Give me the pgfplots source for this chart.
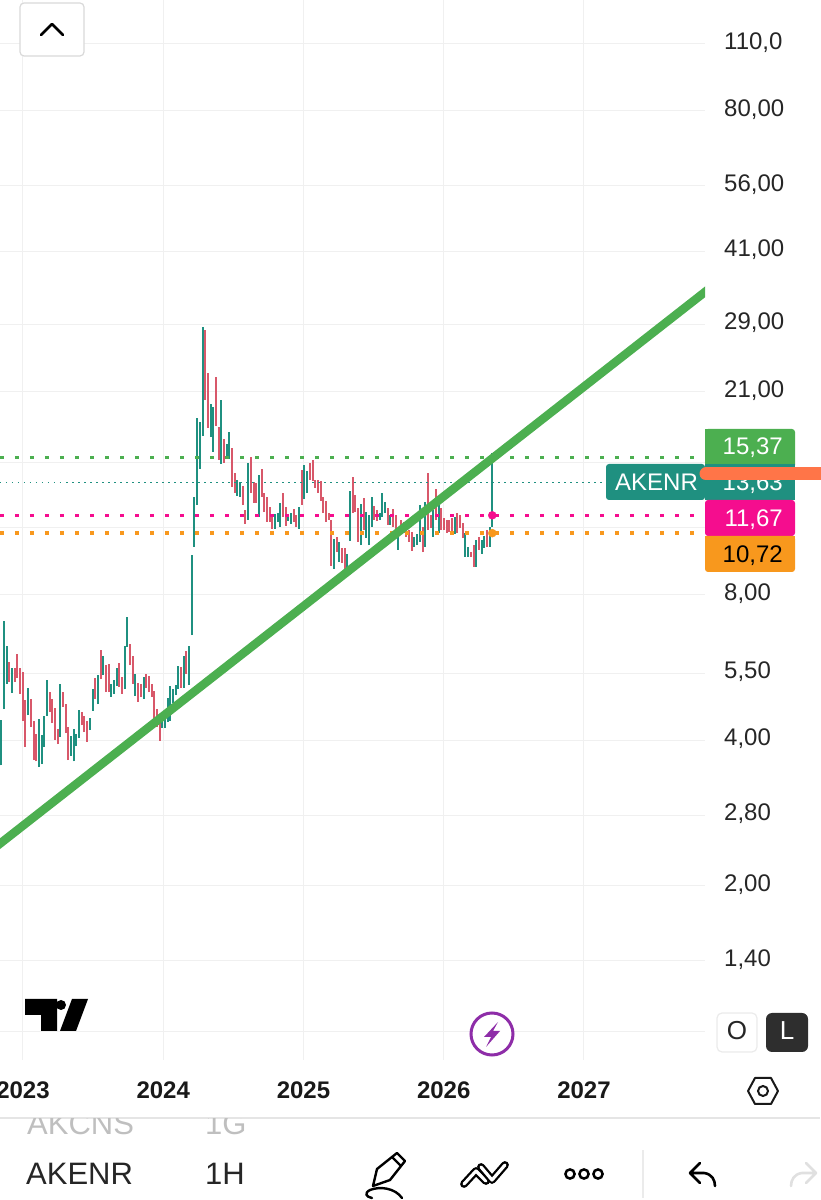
\documentclass[border=0pt]{standalone}
\usepackage{pgfplots}
\usepackage{pgfplotstable}
\usepackage{fontspec}
\setmainfont{Liberation Sans}
\pgfplotsset{compat=1.18}
\definecolor{tvteal}{HTML}{1F9080}
\definecolor{tvred}{HTML}{D8586A}
\definecolor{tvgreen}{HTML}{4CAF50}
\definecolor{tvpink}{HTML}{F50D8E}
\definecolor{tvorange}{HTML}{F8981D}
\definecolor{tvgrid}{HTML}{F0F0F0}
\definecolor{scrib}{HTML}{FF7548}
\definecolor{tvpurple}{HTML}{8E2DA8}
\pgfplotstableread{
k l h
0 3.55 4.41
1 4.64 7.06
2 5.23 6.27
4 5.01 5.64
10 4.51 5.13
14 3.52 4.43
15 3.57 4.10
16 3.87 4.49
17 4.49 5.33
22 4.06 5.23
26 3.71 4.08
27 3.62 4.22
28 3.89 4.12
29 4.05 4.62
33 4.20 4.45
34 4.60 5.10
36 4.75 5.46
38 5.46 5.97
41 4.92 5.23
42 4.99 5.33
43 5.18 5.64
46 5.10 6.27
47 6.24 7.19
50 4.94 5.48
53 4.87 5.41
60 4.24 4.47
61 4.24 4.47
62 4.37 4.90
63 4.39 5.18
64 4.78 5.10
65 4.96 5.20
66 5.10 5.69
68 5.13 5.97
70 5.20 6.27
71 6.60 9.67
72 10.04 12.74
73 12.26 18.55
74 14.55 18.18
75 17.03 28.60
78 16.95 19.83
79 15.78 19.55
82 14.90 20.21
84 15.26 16.39
85 15.26 17.35
88 12.80 13.81
89 12.74 13.68
92 11.42 14.97
96 11.58 14.14
102 10.94 11.75
103 11.31 11.80
104 11.05 12.38
107 11.36 11.75
108 11.20 11.80
111 10.94 12.14
113 12.62 14.83
114 12.98 14.41
124 9.04 10.43
126 9.35 10.28
129 9.00 9.71
130 10.33 13.11
134 10.13 12.32
136 10.49 11.85
137 10.13 11.69
138 11.05 12.74
141 11.42 11.80
142 11.58 12.98
143 11.80 12.44
145 11.15 11.69
148 9.90 11.00
154 10.04 10.54
155 10.13 10.69
156 10.28 12.26
158 10.04 12.44
161 10.54 11.97
163 10.74 12.38
169 10.69 11.58
173 9.57 10.74
174 9.57 10.04
177 9.13 10.38
179 9.71 10.38
180 9.99 10.59
182 10.04 11.05
183 11.05 15.68
}\tealbars
\pgfplotstableread{
k l h
3 5.28 5.80
5 5.28 5.64
6 5.38 6.03
7 4.99 5.64
8 4.39 5.54
9 3.87 4.85
11 4.26 4.87
12 3.64 4.39
13 3.62 4.12
18 4.58 5.03
19 4.34 4.87
20 4.01 4.66
21 3.93 4.22
23 4.69 5.03
24 4.14 4.75
25 3.64 4.26
30 4.30 4.58
31 4.16 4.49
32 3.97 4.39
35 4.87 5.38
37 5.35 6.15
39 5.03 5.72
40 5.03 5.75
44 5.15 5.78
45 4.99 5.41
48 5.72 6.33
49 5.23 5.97
51 4.80 5.25
52 4.92 5.23
54 5.13 5.48
55 5.03 5.43
56 4.92 5.23
57 4.43 5.05
58 4.26 4.64
59 3.99 4.45
67 5.13 5.67
69 5.48 6.12
76 20.21 28.20
77 17.69 22.99
80 17.87 22.55
81 15.19 17.78
83 14.97 16.79
86 13.36 16.08
87 12.98 14.27
90 12.26 13.42
91 11.20 11.97
93 12.98 15.37
94 12.38 13.68
95 12.38 13.62
97 12.74 14.55
98 11.85 12.98
99 11.31 12.74
100 11.31 12.14
101 10.94 11.69
105 11.58 12.98
106 11.10 12.14
109 11.31 12.03
110 11.05 11.69
112 12.26 14.48
115 13.81 14.97
116 13.75 15.19
117 13.30 13.81
118 12.98 13.81
119 12.50 13.75
120 11.80 12.74
121 11.31 12.50
122 11.42 11.80
123 9.17 11.42
125 9.80 10.54
127 9.31 9.99
128 8.87 9.99
131 11.80 14.00
132 11.85 12.86
133 10.28 12.08
135 10.89 12.68
139 11.42 12.20
140 11.36 11.97
144 11.15 12.08
146 11.05 12.03
147 10.79 11.69
149 10.79 11.42
150 10.74 11.31
151 10.54 11.05
152 10.28 10.89
153 9.85 10.79
157 9.80 11.05
159 10.89 14.27
160 11.00 11.69
162 11.42 13.23
164 10.89 12.08
165 10.89 11.53
166 10.74 11.42
167 10.79 11.42
168 10.79 11.53
170 10.74 11.80
171 11.00 11.69
172 10.49 11.26
175 9.57 9.80
176 9.13 10.13
178 9.90 10.54
181 10.04 10.89
}\redbars
\begin{document}
\begin{tikzpicture}
\useasboundingbox (0,0) rectangle (820pt,1200pt);
\begin{axis}[
  at={(0pt,140pt)}, anchor=south west, scale only axis,
  width=705pt, height=1060pt,
  ymode=log, xmin=2022.836, xmax=2027.863, ymin=0.8733, ymax=135.6,
  axis line style={draw=none}, major tick length=0pt, tick style={draw=none},
  minor tick num=0, log ticks with fixed point,
  grid=major, grid style={color=tvgrid, line width=1pt},
  xtick={2023,2024,2025,2026,2027},
  xticklabels={2023,2024,2025,2026,2027},
  ytick={110,80,56,41,29,21,15,11,8,5.5,4,2.8,2,1.4,1},
  yticklabels={{110,0},{80,00},{56,00},{41,00},{29,00},{21,00},{},{},{8,00},{5,50},{4,00},{2,80},{2,00},{1,40},{}},
  yticklabel pos=right,
  tick label style={inner sep=0pt},
  yticklabel style={font=\fontsize{24}{28}\selectfont, text=black!85, anchor=base west, xshift=19pt, yshift=-5.5pt},
  xticklabel style={font=\fontsize{24}{28}\selectfont\bfseries, text=black!90, anchor=base, yshift=-38.5pt},
  clip=true,
]
\addplot[draw=none, forget plot, error bars/.cd, y dir=plus, y explicit, error mark=none,
  error bar style={line width=2pt, color=tvteal}]
  table[x expr=2022.8455+\thisrow{k}*0.01913, y=l, y error plus expr=\thisrow{h}-\thisrow{l}] {\tealbars};
\addplot[draw=none, forget plot, error bars/.cd, y dir=plus, y explicit, error mark=none,
  error bar style={line width=2pt, color=tvred}]
  table[x expr=2022.8455+\thisrow{k}*0.01913, y=l, y error plus expr=\thisrow{h}-\thisrow{l}] {\redbars};
% horizontal levels
\addplot[tvgreen, line width=3.5pt, dash pattern=on 4pt off 11pt] coordinates {(2022.836,15.37) (2027.863,15.37)};
\addplot[tvpink, line width=3.5pt, dash pattern=on 4pt off 11pt] coordinates {(2022.836,11.67) (2027.863,11.67)};
\addplot[tvorange, line width=3.5pt, dash pattern=on 4pt off 11pt] coordinates {(2022.836,10.72) (2027.863,10.72)};
\addplot[tvteal, line width=1.4pt, dash pattern=on 1.5pt off 4.5pt] coordinates {(2022.836,13.63) (2027.863,13.63)};
% last-bar markers
\addplot[only marks, mark=*, mark size=4pt, color=tvpink] coordinates {(2026.346,11.67)};
\addplot[only marks, mark=*, mark size=4pt, color=tvorange] coordinates {(2026.346,10.72)};
% trend line
\addplot[tvgreen, line width=8.5pt] coordinates {(2022.80,2.40) (2027.90,34.45)};
\end{axis}
\begin{scope}[x=1pt,y=-1pt,yshift=1200pt]
  % top button
  \draw[draw=black!15, fill=white, line width=1.2pt, rounded corners=4pt] (20,3) rectangle (84,56);
  \draw[black, line width=2.6pt, line cap=round, line join=round] (41,35)--(52,24)--(63,35);
  % price boxes
  \fill[tvgreen, rounded corners=3pt] (705,429) rectangle (795,468);
  \fill[tvteal, rounded corners=3pt] (606,464) rectangle (705,500);
  \fill[tvteal] (705,464) rectangle (795,500);
  \fill[tvpink, rounded corners=3pt] (705,500) rectangle (795,536);
  \fill[tvorange, rounded corners=3pt] (705,536) rectangle (795,572);
  \fill[tvorange] (705,536) rectangle (795,545);
  \fill[tvgreen] (705,429) rectangle (710,464);
  \fill[tvgreen] (705,458) rectangle (795,464);
  \begin{scope}[every node/.style={inner sep=0pt, font=\fontsize{24}{28}\selectfont}]
    \node[anchor=base east, text=white] at (783,455) {15,37};
    \node[anchor=base east, text=white] at (783,491) {13,63};
    \node[anchor=base west, text=white] at (615,491) {AKENR};
    \node[anchor=base east, text=white] at (783,527) {11,67};
    \node[anchor=base east, text=black] at (783,563) {10,72};
  \end{scope}
  \draw[scrib, line width=13pt, line cap=round] (706,474)--(760,474)--(826,474);
  % TradingView logo
  \fill[black] (25,999)--(57,999)--(57,1031)--(41,1031)--(41,1015)--(25,1015)--cycle;
  \fill[black] (61,1005) circle (5);
  \fill[black] (72,999)--(88,999)--(76,1031)--(60,1031)--cycle;
  % bolt
  \draw[tvpurple, line width=3pt, fill=white] (492,1034) circle (21);
  \fill[tvpurple] (498,1022)--(484,1037)--(491,1037)--(486,1047)--(500,1031)--(493,1031)--cycle;
  % O / L
  \draw[draw=black!8, fill=white, line width=1.2pt, rounded corners=5pt] (717,1013) rectangle (757,1052);
  \fill[black!82, rounded corners=6pt] (766,1013) rectangle (808,1052);
  \node[inner sep=0pt, font=\fontsize{26}{30}\selectfont, text=black!85] at (737,1031) {O};
  \node[inner sep=0pt, font=\fontsize{26}{30}\selectfont, text=white] at (787,1031) {L};
  % hexagon
  \draw[black!90, line width=2pt, line join=round] (748,1091)--(755,1078)--(771,1078)--(778,1091)--(771,1104)--(755,1104)--cycle;
  \draw[black!90, line width=2pt] (763,1091) circle (5);
  % toolbar
  \draw[black!10, line width=2pt] (0,1118)--(820,1118);
  \begin{scope}
    \clip (0,1119) rectangle (820,1140);
    \node[anchor=base west, inner sep=0pt, font=\fontsize{31}{34}\selectfont, text=black!25] at (27,1135) {AKCNS};
    \node[anchor=base west, inner sep=0pt, font=\fontsize{31}{34}\selectfont, text=black!25] at (205,1135) {1G};
  \end{scope}
  \node[anchor=base west, inner sep=0pt, font=\fontsize{31}{34}\selectfont, text=black!85] at (26,1185) {AKENR};
  \node[anchor=base west, inner sep=0pt, font=\fontsize{31}{34}\selectfont, text=black!85] at (205,1185) {1H};
  % pencil
  \draw[black, line width=2.4pt, line join=round] (373,1186)--(377,1169)--(397,1153)--(405,1161)--(390,1180)--cycle;
  \draw[black, line width=2.2pt] (392,1157)--(401,1166);
  \draw[black, line width=2.4pt, line cap=round] (402,1198) .. controls (395,1188) and (380,1186) .. (370,1190) .. controls (364,1193) and (366,1197) .. (372,1198);
  % zig-zag
  \draw[black, line width=2.3pt, double=white, double distance=3.2pt, line join=round, line cap=round] (464,1184)--(476,1171)--(486,1181);
  \draw[black, line width=2.3pt, double=white, double distance=3.2pt, line join=round, line cap=round] (481,1167)--(492,1180)--(505,1165);
  % ooo
  \draw[black, line width=2.5pt] (570,1174) circle (4.6) (584,1174) circle (4.6) (598,1174) circle (4.6);
  \draw[black!8, line width=1.5pt] (643,1150)--(643,1198);
  % undo / redo
  \draw[black, line width=2.6pt, line cap=round, line join=round] (700,1163)--(690,1173)--(700,1183) (690,1173)--(704,1173) .. controls (712,1174) and (715,1180) .. (715,1186);
  \draw[black!12, line width=2.6pt, line cap=round, line join=round] (806,1163)--(816,1173)--(806,1183) (816,1173)--(802,1173) .. controls (794,1174) and (791,1180) .. (791,1186);
\end{scope}
\end{tikzpicture}
\end{document}
